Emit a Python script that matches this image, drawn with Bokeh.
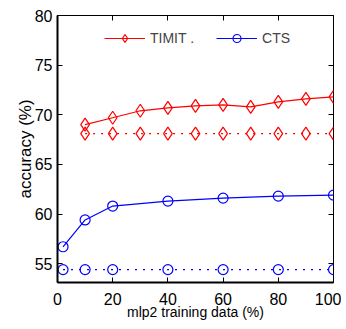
from bokeh.plotting import figure
from bokeh.models import LinearAxis, FixedTicker, Range1d, Legend, LegendItem
from bokeh.embed import file_html
from bokeh.resources import INLINE

timit_x = [10, 20, 30, 40, 50, 60, 70, 80, 90, 100]
timit_y = [69.0, 69.7, 70.4, 70.7, 70.9, 71.0, 70.8, 71.3, 71.6, 71.8]
timit_base = [68.1, 68.1, 68.1, 68.1, 68.1, 68.1, 68.1, 68.1, 68.1, 68.1]
cts_x = [2, 10, 20, 40, 60, 80, 100]
cts_y = [56.7, 59.4, 60.8, 61.3, 61.6, 61.8, 61.9]
cts_base = [54.4, 54.4, 54.4, 54.4, 54.4, 54.4, 54.4]
x_ticks = [0, 20, 40, 60, 80, 100]
y_ticks = [55, 60, 65, 70, 75, 80]

FONT = "Liberation Sans"

p = figure(width=341, height=322, output_backend="svg", toolbar_location=None,
           x_range=Range1d(0, 100), y_range=Range1d(53.1, 80),
           min_border_left=57, min_border_right=8, min_border_top=15, min_border_bottom=40)
p.frame_width = 276
p.frame_height = 267
p.xgrid.visible = False
p.ygrid.visible = False
p.outline_line_color = "black"
p.background_fill_color = "white"

for ax, ticks in ((p.xaxis[0], x_ticks), (p.yaxis[0], y_ticks)):
    ax.ticker = FixedTicker(ticks=ticks)
    ax.major_tick_in = 5
    ax.major_tick_out = 0
    ax.minor_tick_in = 0
    ax.minor_tick_out = 0
    ax.axis_line_width = 2
    ax.major_label_text_font = FONT
    ax.major_label_text_font_size = "16px"
    ax.major_label_text_color = "black"
    ax.axis_label_text_font = FONT
    ax.axis_label_text_font_style = "normal"
    ax.axis_label_text_color = "black"

p.xaxis[0].axis_label = "mlp2 training data (%)"
p.xaxis[0].axis_label_text_font_size = "14px"
p.yaxis[0].axis_label = "accuracy (%)"
p.yaxis[0].axis_label_text_font_size = "17px"
p.xaxis[0].major_label_standoff = 10
p.yaxis[0].major_label_standoff = 5
p.xaxis[0].axis_label_standoff = -4
p.yaxis[0].axis_label_standoff = -3

top = LinearAxis(ticker=FixedTicker(ticks=x_ticks), major_label_text_color=None,
                 major_label_text_font_size="1px",
                 major_tick_in=5, major_tick_out=0, minor_tick_in=0, minor_tick_out=0,
                 major_label_standoff=0, axis_line_color=None)
right = LinearAxis(ticker=FixedTicker(ticks=y_ticks), major_label_text_color=None,
                   major_label_text_font_size="1px",
                   major_tick_in=5, major_tick_out=0, minor_tick_in=0, minor_tick_out=0,
                   major_label_standoff=0, axis_line_color=None)
p.add_layout(top, "above")
p.add_layout(right, "right")

red = "#ff0000"
blue = "#0000ff"

r1 = p.line(timit_x, timit_y, line_color=red, line_width=1.2)
r2 = p.scatter(timit_x, timit_y, marker="diamond", size=13, fill_color=None, line_color=red, line_width=1.2)
p.line(timit_x, timit_base, line_color=red, line_width=1.2, line_dash="2 6")
p.scatter(timit_x, timit_base, marker="diamond", size=13, fill_color=None, line_color=red, line_width=1.2)

r3 = p.line(cts_x, cts_y, line_color=blue, line_width=1.2)
r4 = p.scatter(cts_x, cts_y, marker="circle", size=10, fill_color=None, line_color=blue, line_width=1.2)
p.line(cts_x, cts_base, line_color=blue, line_width=1.2, line_dash="2 6")
p.scatter(cts_x, cts_base, marker="circle", size=10, fill_color=None, line_color=blue, line_width=1.2)

legend = Legend(items=[LegendItem(label="TIMIT .", renderers=[r1, r2]),
                       LegendItem(label="CTS", renderers=[r3, r4])],
                orientation="horizontal", location=(47, 234),
                border_line_color=None, background_fill_alpha=0,
                label_text_font=FONT, label_text_font_size="14px",
                glyph_width=41, glyph_height=20, spacing=22, padding=0, margin=0,
                label_standoff=5)
p.add_layout(legend)

open("out.html", "w").write(file_html(p, INLINE))
